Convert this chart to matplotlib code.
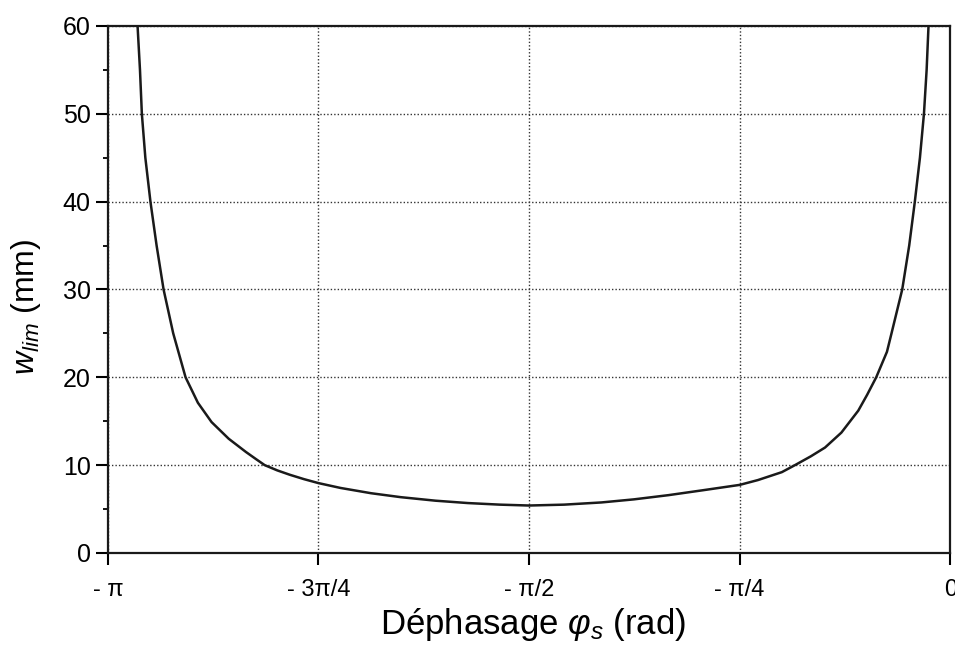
import numpy as np
import matplotlib
matplotlib.use("Agg")
import matplotlib.pyplot as plt
from matplotlib.ticker import MultipleLocator

# values (phase in rad, w_lim in mm)
phase = [-3.031, -3.022, -3.015, -3.002, -2.983, -2.960, -2.934, -2.898, -2.852,
         -2.806, -2.755, -2.691, -2.627, -2.590, -2.557, -2.510, -2.463, -2.410,
         -2.356, -2.274, -2.160, -2.049, -1.920, -1.799, -1.680, -1.571, -1.440,
         -1.301, -1.180, -1.051, -0.920, -0.785, -0.717, -0.628, -0.579, -0.520,
         -0.467, -0.406, -0.343, -0.310, -0.276, -0.236, -0.219, -0.179, -0.153,
         -0.132, -0.113, -0.098, -0.088, -0.081]
w_lim = [60, 55, 50, 45, 40, 35, 30, 25, 20,
         17.1, 14.9, 13.0, 11.5, 10.7, 10.0, 9.4, 8.9, 8.4,
         7.95, 7.4, 6.8, 6.35, 5.95, 5.68, 5.5, 5.4, 5.5,
         5.75, 6.1, 6.58, 7.15, 7.75, 8.3, 9.2, 10.0, 11.0,
         12.0, 13.7, 16.2, 18.0, 20, 22.9, 25, 30, 35,
         40, 45, 50, 55, 60]

xtick_pos = [-np.pi, -3 * np.pi / 4, -np.pi / 2, -np.pi / 4, 0]
xtick_labels = ['- π', '- 3π/4', '- π/2', '- π/4', '0']
ytick_pos = [0, 10, 20, 30, 40, 50, 60]

plt.rcParams['font.family'] = ['Liberation Sans', 'DejaVu Sans']
plt.rcParams['mathtext.fontset'] = 'custom'
plt.rcParams['mathtext.rm'] = 'Liberation Sans'
plt.rcParams['mathtext.it'] = 'Liberation Sans:italic'

fig = plt.figure(figsize=(9.55, 6.49), dpi=100)
ax = fig.add_axes([0.113, 0.148, 0.882, 0.812])

ax.plot(phase, w_lim, color='#1a1a1a', lw=1.8)

ax.set_xlim(-np.pi, 0)
ax.set_ylim(0, 60)
ax.set_xticks(xtick_pos)
ax.set_xticklabels(xtick_labels, fontsize=17)
ax.set_yticks(ytick_pos)
ax.yaxis.set_minor_locator(MultipleLocator(5))
ax.tick_params(axis='y', labelsize=18, length=8.5, width=1.5, pad=4)
ax.tick_params(axis='y', which='minor', length=3.6, width=1.3)
ax.tick_params(axis='x', length=8.5, width=1.5, pad=10)

ax.grid(True, which='major', linestyle=(0, (1, 1.5)), color='#333333', lw=1.0)
for s in ax.spines.values():
    s.set_linewidth(1.6)
    s.set_color('#1a1a1a')

ax.set_xlabel(r'Déphasage $\varphi_s$ (rad)', fontsize=25)
ax.xaxis.set_label_coords(0.505, -0.1)
ax.set_ylabel(r'$w_{lim}$ (mm)', fontsize=23)
ax.yaxis.set_label_coords(-0.077, 0.467)

fig.savefig('out.png', dpi=100)
